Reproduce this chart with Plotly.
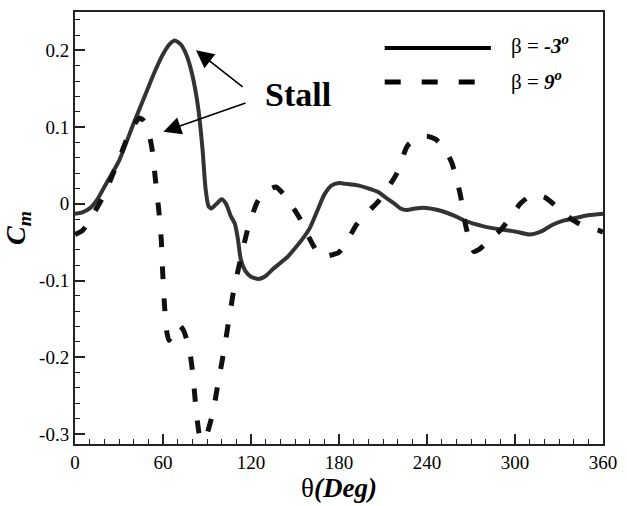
import plotly.graph_objects as go

# Pitching-moment coefficient vs azimuth angle, two pitch settings
theta_neg3 = [0, 5, 10, 15, 20, 30, 40, 50, 55, 60, 65, 68, 72, 76, 80, 84, 87, 89, 91, 93,
              96, 100, 103, 106, 109, 111, 113, 116, 120, 125, 130, 135, 140, 145, 150, 155,
              160, 165, 170, 175, 180, 185, 193, 200, 207, 212, 218, 222, 226, 232, 238, 245,
              251, 258, 267, 278, 289, 300, 310, 318, 325, 333, 340, 350, 360]
cm_neg3 = [-0.013, -0.011, -0.006, 0.005, 0.022, 0.056, 0.105, 0.152, 0.175, 0.195, 0.209,
           0.213, 0.208, 0.194, 0.168, 0.125, 0.070, 0.020, -0.003, -0.006, -0.001, 0.006,
           0.000, -0.015, -0.026, -0.045, -0.072, -0.087, -0.095, -0.098, -0.094, -0.085,
           -0.077, -0.069, -0.058, -0.046, -0.032, -0.010, 0.012, 0.024, 0.027, 0.026, 0.024,
           0.020, 0.015, 0.008, 0.000, -0.006, -0.008, -0.006, -0.005, -0.007, -0.010, -0.015,
           -0.023, -0.029, -0.033, -0.036, -0.040, -0.036, -0.028, -0.022, -0.019, -0.015,
           -0.013]

theta_9 = [0, 5, 10, 15, 20, 25, 30, 35, 40, 44, 47, 50, 52.5, 54.7, 57, 58.8, 59.7, 60.8,
           62.5, 64, 66, 69, 71, 74, 78, 80.4, 82.3, 84.5, 86, 88, 90, 94, 97.7, 101.7, 105,
           108.4, 112.8, 117.8, 125, 132, 137, 142, 148, 153, 158, 162.4, 167, 172, 180, 186,
           192, 200, 206.7, 213, 219, 226.8, 233, 240, 246, 252, 257, 262.6, 266, 269, 272,
           275, 280, 285, 290.8, 297, 304, 310, 314, 320.8, 328, 338.5, 348, 357.6, 360]
cm_9 = [-0.040, -0.035, -0.022, -0.005, 0.012, 0.035, 0.058, 0.083, 0.102, 0.112, 0.108,
        0.095, 0.072, 0.034, -0.006, -0.046, -0.086, -0.126, -0.166, -0.178, -0.172, -0.160,
        -0.158, -0.165, -0.190, -0.223, -0.263, -0.298, -0.307, -0.308, -0.300, -0.272,
        -0.232, -0.190, -0.150, -0.111, -0.073, -0.033, 0.005, 0.018, 0.022, 0.013, -0.003,
        -0.018, -0.038, -0.054, -0.068, -0.068, -0.063, -0.047, -0.027, -0.010, 0.003, 0.020,
        0.038, 0.076, 0.085, 0.088, 0.084, 0.072, 0.053, 0.013, -0.025, -0.048, -0.062,
        -0.060, -0.052, -0.043, -0.033, -0.017, 0.001, 0.010, 0.012, 0.008, -0.003, -0.020,
        -0.030, -0.035, -0.037]

x_ticks = [0, 60, 120, 180, 240, 300, 360]
x_labels = ["0", "60", "120", "180", "240", "300", "360"]
y_ticks = [-0.3, -0.2, -0.1, 0, 0.1, 0.2]
y_labels = ["-0.3", "-0.2", "-0.1", "0", "0.1", "0.2"]

SERIF = "Liberation Serif"
AX = "#222222"

fig = go.Figure()
fig.add_trace(go.Scatter(x=theta_neg3, y=cm_neg3, mode="lines",
                         line=dict(color="#333333", width=4, shape="spline", smoothing=0.6),
                         showlegend=False))
fig.add_trace(go.Scatter(x=theta_9, y=cm_9, mode="lines",
                         line=dict(color="#111111", width=5, dash="13px,19px",
                                   shape="spline", smoothing=0.6),
                         showlegend=False))

# Hand-drawn legend
fig.add_shape(type="line", xref="paper", yref="paper", x0=0.5866, x1=0.7877,
              y0=0.9167, y1=0.9167, line=dict(color="#000", width=4))
fig.add_shape(type="line", xref="paper", yref="paper", x0=0.5866, x1=0.757,
              y0=0.838, y1=0.838, line=dict(color="#000", width=5, dash="16px,21px"))
fig.add_annotation(xref="paper", yref="paper", x=0.822, y=0.925, xanchor="left",
                   yanchor="middle", showarrow=False,
                   text="β = <b><i>-3</i></b><sup><b><i>o</i></b></sup>",
                   font=dict(family=SERIF, size=21, color="#000"))
fig.add_annotation(xref="paper", yref="paper", x=0.822, y=0.842, xanchor="left",
                   yanchor="middle", showarrow=False,
                   text="β = <b><i>9</i></b><sup><b><i>o</i></b></sup>",
                   font=dict(family=SERIF, size=21, color="#000"))

# Stall label with arrows
fig.add_annotation(x=152, y=0.142, xref="x", yref="y", text="<b>Stall</b>",
                   showarrow=False, font=dict(family=SERIF, size=34, color="#000"))
fig.add_annotation(x=82.5, y=0.200, ax=115.3, ay=0.151, xref="x", yref="y",
                   axref="x", ayref="y", text="", showarrow=True, arrowhead=2,
                   arrowsize=2.2, arrowwidth=1.6, arrowcolor="#000")
fig.add_annotation(x=60.3, y=0.094, ax=117.3, ay=0.132, xref="x", yref="y",
                   axref="x", ayref="y", text="", showarrow=True, arrowhead=2,
                   arrowsize=2.2, arrowwidth=1.6, arrowcolor="#000")

fig.update_xaxes(range=[0, 360], tickvals=x_ticks, ticktext=x_labels,
                 ticks="inside", ticklen=10, tickwidth=2, tickcolor=AX,
                 minor=dict(dtick=10, ticks="inside", ticklen=5, tickwidth=1.2, tickcolor=AX),
                 showline=True, linewidth=2, linecolor=AX, mirror=True,
                 showgrid=False, zeroline=False,
                 tickfont=dict(family=SERIF, size=19, color="#000"),
                 title=dict(text="θ<b><i>(Deg)</i></b>", standoff=4,
                            font=dict(family=SERIF, size=27, color="#000")))
fig.update_yaxes(range=[-0.313, 0.25], tickvals=y_ticks, ticktext=y_labels,
                 ticks="inside", ticklen=10, tickwidth=2, tickcolor=AX,
                 minor=dict(dtick=0.02, ticks="inside", ticklen=5, tickwidth=1.2, tickcolor=AX),
                 showline=True, linewidth=2, linecolor=AX, mirror=True,
                 showgrid=False, zeroline=False,
                 tickfont=dict(family=SERIF, size=19, color="#000"),
                 title=dict(text="<b><i>C<sub>m</sub></i></b>", standoff=6,
                            font=dict(family=SERIF, size=28, color="#000")))

fig.update_layout(width=627, height=506, margin=dict(l=75, r=15, t=10, b=52),
                  paper_bgcolor="white", plot_bgcolor="white")

fig.write_html("out.html")
